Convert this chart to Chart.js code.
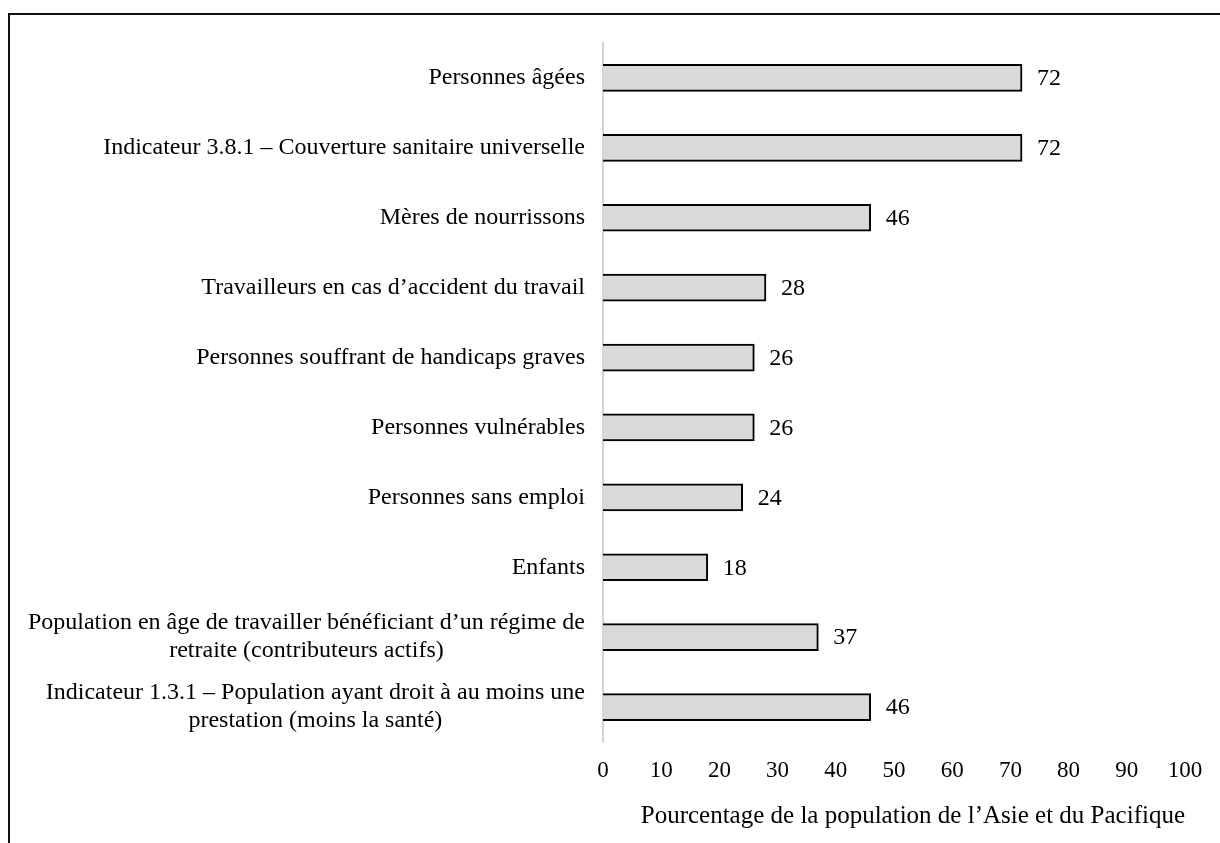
<!DOCTYPE html>
<html lang="fr">
<head>
<meta charset="utf-8">
<title>Couverture de la protection sociale – Asie et Pacifique</title>
<script src="https://cdn.jsdelivr.net/npm/chart.js@4"></script>
<style>
  html, body { margin: 0; padding: 0; background: #fff; }
  #wrap { width: 1220px; height: 843px; position: relative; }
</style>
</head>
<body>
<div id="wrap"><canvas id="chart" width="1220" height="843"></canvas></div>
<script>
// Catégories (de haut en bas) ; les libellés longs sont découpés en lignes
const categories = [
  ["Personnes âgées"],
  ["Indicateur 3.8.1 – Couverture sanitaire universelle"],
  ["Mères de nourrissons"],
  ["Travailleurs en cas d’accident du travail"],
  ["Personnes souffrant de handicaps graves"],
  ["Personnes vulnérables"],
  ["Personnes sans emploi"],
  ["Enfants"],
  ["Population en âge de travailler bénéficiant d’un régime de", "retraite (contributeurs actifs)"],
  ["Indicateur 1.3.1 – Population ayant droit à au moins une", "prestation (moins la santé)"]
];
const coverage = [72, 72, 46, 28, 26, 26, 24, 18, 37, 46];
const xTicks = [0, 10, 20, 30, 40, 50, 60, 70, 80, 90, 100];
const axisTitle = "Pourcentage de la population de l’Asie et du Pacifique";

const FONT = "'Liberation Serif', 'Times New Roman', serif";
const LABEL_SIZE = 24;
const TICK_SIZE = 23;
const TITLE_SIZE = 25;

// Cadre : trait supérieur et trait gauche
const framePlugin = {
  id: 'frame',
  beforeDraw(chart) {
    const ctx = chart.ctx;
    ctx.save();
    ctx.strokeStyle = '#111';
    ctx.lineWidth = 2;
    ctx.beginPath();
    ctx.moveTo(chart.width, 14);
    ctx.lineTo(9, 14);
    ctx.lineTo(9, chart.height);
    ctx.stroke();
    ctx.restore();
  }
};

// Libellés des catégories : bloc aligné à droite, lignes centrées entre elles
const categoryLabels = {
  id: 'categoryLabels',
  afterDraw(chart) {
    const ctx = chart.ctx;
    const yScale = chart.scales.y;
    const right = chart.chartArea.left - 18;
    const lineH = 28;
    ctx.save();
    ctx.font = LABEL_SIZE + 'px ' + FONT;
    ctx.fillStyle = '#000';
    ctx.textBaseline = 'middle';
    ctx.textAlign = 'center';
    categories.forEach((lines, i) => {
      const y = yScale.getPixelForTick(i);
      const w = Math.max(...lines.map(l => ctx.measureText(l).width));
      const cx = right - w / 2;
      const y0 = y - (lines.length - 1) * lineH / 2;
      lines.forEach((l, k) => ctx.fillText(l, cx, y0 + k * lineH));
    });
    ctx.restore();
  }
};

// Valeurs affichées à droite des barres
const valueLabels = {
  id: 'valueLabels',
  afterDatasetsDraw(chart) {
    const ctx = chart.ctx;
    const meta = chart.getDatasetMeta(0);
    ctx.save();
    ctx.font = LABEL_SIZE + 'px ' + FONT;
    ctx.fillStyle = '#000';
    ctx.textBaseline = 'middle';
    ctx.textAlign = 'left';
    meta.data.forEach((bar, i) => {
      ctx.fillText(String(coverage[i]), bar.x + 15, bar.y + 1);
    });
    ctx.restore();
  }
};

new Chart(document.getElementById('chart'), {
  type: 'bar',
  data: {
    labels: categories.map(c => c.join(' ')),
    datasets: [{
      data: coverage,
      backgroundColor: '#d9d9d9',
      borderColor: '#000',
      borderWidth: 2,
      barThickness: 27
    }]
  },
  options: {
    indexAxis: 'y',
    responsive: false,
    animation: false,
    layout: { padding: { top: 43, right: 35, bottom: 0, left: 0 } },
    plugins: {
      legend: { display: false },
      tooltip: { enabled: false }
    },
    scales: {
      y: {
        grid: { display: false, drawTicks: false },
        border: { display: true, color: '#d4d4d4', width: 2 },
        ticks: { display: false },
        afterFit(scale) { scale.width = 603; }
      },
      x: {
        min: 0,
        max: 100,
        grid: { display: false, drawTicks: false },
        border: { display: false },
        afterBuildTicks(scale) { scale.ticks = xTicks.map(v => ({ value: v })); },
        ticks: {
          color: '#000',
          padding: 15,
          maxRotation: 0,
          font: { family: FONT, size: TICK_SIZE }
        },
        title: {
          display: true,
          text: axisTitle,
          align: 'end',
          color: '#000',
          padding: { top: 0, bottom: 12 },
          font: { family: FONT, size: TITLE_SIZE }
        },
        afterFit(scale) { scale.height = 101; }
      }
    }
  },
  plugins: [framePlugin, categoryLabels, valueLabels]
});
</script>
</body>
</html>
